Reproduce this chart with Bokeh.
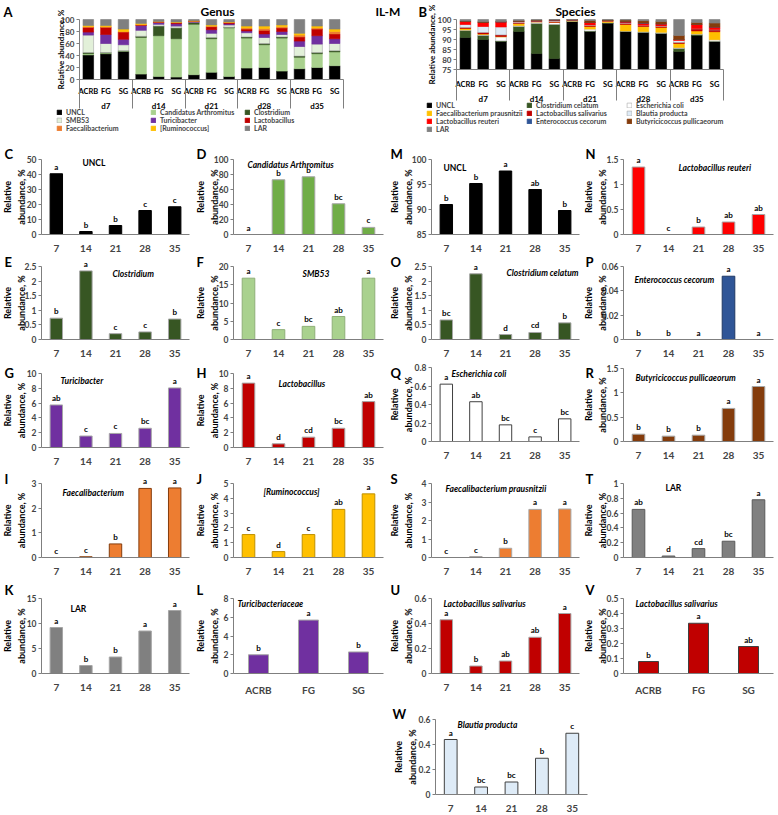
import math
from bokeh.plotting import figure
from bokeh.models import (Range1d, FixedTicker, Label, Legend, LegendItem,
                          ColumnDataSource, Spacer, NumeralTickFormatter)
from bokeh.layouts import column, row
from bokeh.embed import file_html
from bokeh.resources import INLINE
from bokeh.core.properties import value

FONT = "Lato"
AX = "#7F7F7F"

# ---------------- data: stacked composition charts ----------------
days = ["d7", "d14", "d21", "d28", "d35"]
diets = ["ACRB", "FG", "SG"]

genus_names = ["UNCL", "Candidatus Arthromitus", "Clostridium", "SMB53", "Turicibacter",
               "Lactobacillus", "Faecalibacterium", "[Ruminococcus]", "LAR"]
genus_colors = ["#000000", "#A9D18E", "#375623", "#E2F0D9", "#7030A0",
                "#C00000", "#ED7D31", "#FFC000", "#808080"]
genus_light = [False, False, False, True, False, False, False, False, False]
# 15 bars: d7 ACRB, d7 FG, d7 SG, d14 ACRB, ...
genus_uncl = [41, 43, 47, 9, 5, 4, 8, 12, 5, 19, 20, 14, 18, 20, 23]
genus_cand = [2, 1, 0.5, 61, 68, 64, 84, 56, 81, 50, 38, 55, 19, 23, 23]
genus_clost = [2, 1, 0.5, 2, 16, 18, 3, 2, 1, 2, 2, 2, 2, 2, 2]
genus_smb53 = [29, 15, 10, 10, 3, 3, 0.5, 7, 4, 7, 10, 4, 16, 14, 12]
genus_turic = [5, 15, 9, 8, 3, 4, 1, 6, 2, 3, 6, 5, 9, 14, 8]
genus_lacto = [8, 12, 12, 1, 1, 2, 1, 5, 2, 3, 6, 6, 7, 11, 8]
genus_faec = [1, 1, 1, 0.5, 0.2, 0.2, 0, 1, 0.3, 2, 3, 2, 3, 2, 4]
genus_rumino = [2, 2, 4, 2, 0.5, 0.5, 0.5, 2, 0.7, 3, 4, 3, 3, 3, 4]
genus_lar = [10, 10, 16, 6.5, 3.3, 4.3, 2, 9, 4, 11, 11, 9, 23, 11, 16]
genus_series = [genus_uncl, genus_cand, genus_clost, genus_smb53, genus_turic,
                genus_lacto, genus_faec, genus_rumino, genus_lar]
genus_ticks = [0, 20, 40, 60, 80, 100]

species_names = ["UNCL", "Clostridium celatum", "Escherichia coli", "Faecalibacterium prausnitzii",
                 "Lactobacillus salivarius", "Blautia producta", "Lactobacillus reuteri",
                 "Enterococcus cecorum", "Butyricicoccus pullicaeorum", "LAR"]
species_colors = ["#000000", "#375623", "#FFFFFF", "#FFC000", "#C00000",
                  "#DEEBF7", "#FF0000", "#2F5597", "#843C0C", "#808080"]
species_light = [False, False, True, False, False, True, False, False, False, False]
sp_uncl = [91, 90, 89, 94, 83, 80.5, 99, 94, 98.2, 94, 93.5, 93, 84, 92, 89]
sp_ccel = [3.5, 2, 0.3, 2.5, 15, 17, 0.1, 0.2, 0.1, 0.1, 0.1, 0.1, 1.5, 0.5, 0.1]
sp_ecoli = [0.3, 0.5, 2, 0.5, 0.8, 1, 0.1, 1, 0.2, 0.2, 0.4, 0.5, 0.5, 0.3, 0.8]
sp_fpra = [0.7, 0.3, 0.2, 1, 0.1, 0.1, 0.4, 1.3, 0.6, 3.2, 2.5, 2.4, 2, 1.5, 4]
sp_lsal = [0.5, 0.7, 0.8, 0.3, 0.3, 0.3, 0.1, 0.5, 0.2, 0.5, 0.4, 0.5, 0.5, 1, 0.8]
sp_bpro = [1.5, 3, 4, 0.5, 0.1, 0.5, 0.1, 0.3, 0.1, 0.3, 0.2, 0.3, 1, 0.2, 0.3]
sp_lreu = [1.5, 2, 2.5, 0.2, 0.1, 0.3, 0.05, 1.2, 0.1, 0.5, 1, 1, 0.5, 2, 1.2]
sp_ecec = [0, 0, 0, 0, 0, 0, 0, 0, 0, 0.1, 0.1, 0, 0, 0, 0]
sp_bpul = [0.3, 0.5, 0.2, 0.5, 0.3, 0.2, 0.1, 1, 0.3, 0.8, 1.2, 1.2, 2, 1, 2]
sp_lar = [0.7, 1, 1, 0.5, 0.3, 0.1, 0.05, 0.5, 0.2, 0.3, 0.6, 1, 8, 1.5, 1.8]
species_series = [sp_uncl, sp_ccel, sp_ecoli, sp_fpra, sp_lsal, sp_bpro, sp_lreu,
                  sp_ecec, sp_bpul, sp_lar]
species_ticks = [75, 80, 85, 90, 95, 100]

# ---------------- data: single-taxon panels ----------------
age_days = ["7", "14", "21", "28", "35"]

uncl_genus = [40.5, 2.0, 6.0, 16.0, 18.5]
uncl_genus_sig = ["a", "b", "b", "c", "c"]
cand_arthro = [0, 73, 77, 41, 9.5]
cand_arthro_sig = ["a", "b", "b", "bc", "c"]
clostridium = [0.73, 2.35, 0.2, 0.26, 0.7]
clostridium_sig = ["b", "a", "c", "c", "b"]
smb53 = [16.8, 2.7, 3.6, 6.3, 16.8]
smb53_sig = ["a", "c", "bc", "ab", "a"]
turicibacter = [5.75, 1.55, 1.9, 2.6, 8.05]
turicibacter_sig = ["ab", "c", "c", "bc", "a"]
lactobacillus = [8.7, 0.5, 1.4, 2.6, 6.2]
lactobacillus_sig = ["a", "d", "cd", "bc", "ab"]
faecalibacterium = [0.0, 0.03, 0.55, 2.8, 2.82]
faecalibacterium_sig = ["c", "c", "b", "a", "a"]
ruminococcus = [1.55, 0.4, 1.55, 3.25, 4.3]
ruminococcus_sig = ["c", "d", "c", "ab", "a"]
lar_genus = [9.2, 1.6, 3.3, 8.5, 12.6]
lar_genus_sig = ["a", "b", "b", "a", "a"]
turicibacteriaceae = [2.0, 5.7, 2.3]
turicibacteriaceae_sig = ["b", "a", "b"]
uncl_species = [91.0, 95.2, 97.7, 94.0, 89.8]
uncl_species_sig = ["b", "b", "a", "ab", "b"]
l_reuteri = [1.35, 0.0, 0.15, 0.25, 0.4]
l_reuteri_sig = ["a", "c", "b", "ab", "ab"]
c_celatum = [0.67, 2.25, 0.17, 0.24, 0.57]
c_celatum_sig = ["bc", "a", "d", "cd", "b"]
e_cecorum = [0, 0, 0, 0.052, 0]
e_cecorum_sig = ["b", "b", "a", "a", "a"]
e_coli = [0.62, 0.43, 0.18, 0.05, 0.245]
e_coli_sig = ["a", "ab", "bc", "c", "bc"]
b_pullicaeorum = [0.15, 0.11, 0.13, 0.68, 1.13]
b_pullicaeorum_sig = ["b", "b", "b", "a", "a"]
f_prausnitzii = [0.0, 0.05, 0.5, 2.6, 2.62]
f_prausnitzii_sig = ["c", "c", "b", "a", "a"]
lar_species = [0.65, 0.02, 0.12, 0.22, 0.78]
lar_species_sig = ["ab", "d", "cd", "bc", "a"]
l_salivarius = [0.43, 0.06, 0.1, 0.29, 0.48]
l_salivarius_sig = ["a", "b", "ab", "ab", "a"]
l_salivarius_diet = [0.08, 0.335, 0.18]
l_salivarius_diet_sig = ["b", "a", "ab"]
b_producta = [0.44, 0.06, 0.1, 0.29, 0.49]
b_producta_sig = ["a", "bc", "bc", "b", "c"]

ticks_50 = [0, 10, 20, 30, 40, 50]
ticks_100 = [0, 20, 40, 60, 80, 100]
ticks_2_5 = [0, 0.5, 1, 1.5, 2, 2.5]
ticks_20 = [0, 5, 10, 15, 20]
ticks_10 = [0, 2, 4, 6, 8, 10]
ticks_3 = [0, 1, 2, 3]
ticks_5 = [0, 1, 2, 3, 4, 5]
ticks_15 = [0, 5, 10, 15]
ticks_8 = [0, 2, 4, 6, 8]
ticks_85_100 = [85, 90, 95, 100]
ticks_1_5 = [0, 0.5, 1, 1.5]
ticks_0_06 = [0, 0.02, 0.04, 0.06]
ticks_0_8 = [0, 0.2, 0.4, 0.6, 0.8]
ticks_4 = [0, 1, 2, 3, 4]
ticks_1 = [0, 0.2, 0.4, 0.6, 0.8, 1]
ticks_0_6 = [0, 0.2, 0.4, 0.6]
ticks_0_5 = [0, 0.1, 0.2, 0.3, 0.4, 0.5]


def lab(p, x, y, text, size, style="bold", align="left", baseline="middle", angle=0.0):
    p.add_layout(Label(x=x, y=y, x_units="screen", y_units="screen", text=text,
                       text_font=FONT, text_font_size=size, text_font_style=style,
                       text_align=align, text_baseline=baseline, angle=angle,
                       text_color="#000000", text_line_height=1.3))


def style_axis_text(ax, size):
    ax.major_label_text_font = FONT
    ax.major_label_text_font_style = "bold"
    ax.major_label_text_font_size = size


def style_yaxis(ax, ticks, size):
    ax.ticker = FixedTicker(ticks=ticks)
    ax.formatter = NumeralTickFormatter(format="0.[00]")
    ax.fixed_location = 0
    ax.bounds = (ticks[0], ticks[-1])
    ax.axis_line_color = AX
    ax.major_tick_line_color = AX
    ax.major_tick_out = 3
    ax.major_tick_in = 0
    ax.minor_tick_line_color = None
    ax.major_label_standoff = 2
    style_axis_text(ax, size)


def base_figure(width, height, x_lo, x_hi, y_lo, y_hi):
    p = figure(width=width, height=height, x_range=Range1d(x_lo, x_hi),
               y_range=Range1d(y_lo, y_hi), min_border=0, min_border_left=0,
               min_border_right=0, min_border_top=0, min_border_bottom=0,
               output_backend="svg", toolbar_location=None, tools="")
    p.xgrid.visible = False
    p.ygrid.visible = False
    p.outline_line_color = None
    return p


# ---------------- stacked charts ----------------
def stacked_chart(names, colors, light, series, yticks, width, height, fl, fr, ft, fb,
                  cat_off, grp_off, sep_len, ylab_x, leg_x, leg_y, leg_lw):
    factors = [(d, g) for d in days for g in diets]
    n = len(factors)
    slots = [i + 0.5 for i in range(n)]
    ymin, ymax = yticks[0], yticks[-1]
    xu = n / (fr - fl)
    yu = (ymax - ymin) / (fb - ft)
    p = base_figure(width, height, -fl * xu, n + (width - fr) * xu,
                    ymin - (height - fb) * yu, ymax + ft * yu)
    lcs = ["#A6A6A6" if l else c for l, c in zip(light, colors)]
    cum = [0.0] * n
    rends = []
    for s, c, lc in zip(series, colors, lcs):
        new = [a + b for a, b in zip(cum, s)]
        src = ColumnDataSource(dict(x=slots, bottom=[max(v, ymin) for v in cum],
                                    top=[max(v, ymin) for v in new]))
        rends.append(p.vbar(x="x", bottom="bottom", top="top", width=0.6, source=src,
                            fill_color=c, line_color=lc, line_width=0.6))
        cum = new
    style_yaxis(p.yaxis[0], yticks, "8px")

    # category axis: base line plus long separator ticks between the day groups
    xa = p.xaxis[0]
    seps = [len(diets) * k for k in range(len(days) + 1)]
    xa.fixed_location = ymin
    xa.bounds = (0, n)
    xa.ticker = FixedTicker(ticks=seps)
    xa.major_label_overrides = {s: "" for s in seps}
    xa.major_tick_out = sep_len
    xa.major_tick_in = 0
    xa.major_tick_line_color = AX
    xa.minor_tick_line_color = None
    xa.axis_line_color = AX

    cat_src = ColumnDataSource(dict(x=slots, y=[ymin] * n, t=[f[1] for f in factors]))
    p.text(x="x", y="y", text="t", source=cat_src, y_offset=cat_off, text_align="center",
           text_baseline="middle", text_font=value(FONT), text_font_style="bold",
           text_font_size=value("7.5px"), text_color="#000000")
    gc = [len(diets) * k + len(diets) / 2 for k in range(len(days))]
    grp_src = ColumnDataSource(dict(x=gc, y=[ymin] * len(days), t=days))
    p.text(x="x", y="y", text="t", source=grp_src, y_offset=grp_off, text_align="center",
           text_baseline="middle", text_font=value(FONT), text_font_style="bold",
           text_font_size=value("8px"), text_color="#000000")

    lab(p, ylab_x, height - (ft + fb) / 2, "Relative abundance, %", "8px", align="center",
        angle=math.pi / 2)

    items = [LegendItem(label=nm, renderers=[r]) for nm, r in zip(names, rends)]
    lg = Legend(items=items, location=(leg_x, leg_y), orientation="horizontal", ncols=3,
                glyph_width=6, glyph_height=6, label_standoff=4, spacing=0, padding=0,
                margin=0, label_height=8, label_width=leg_lw,
                label_text_font=FONT, label_text_font_style="bold",
                label_text_font_size="7px", border_line_color=None,
                background_fill_alpha=0)
    p.add_layout(lg)
    return p


TOP_H = 140
pA = stacked_chart(genus_names, genus_colors, genus_light, genus_series, genus_ticks,
                   width=406, height=TOP_H, fl=79, fr=343, ft=19, fb=79,
                   cat_off=12, grp_off=26, sep_len=29, ylab_x=60,
                   leg_x=56, leg_y=8, leg_lw=84)
lab(pA, 3, TOP_H - 11, "A", "13px", baseline="alphabetic")
lab(pA, 217, TOP_H - 11, "Genus", "12px", align="center", baseline="alphabetic")
lab(pA, 375, TOP_H - 11, "IL-M", "12px", baseline="alphabetic")

pB = stacked_chart(species_names, species_colors, species_light, species_series,
                   species_ticks, width=372, height=TOP_H, fl=50, fr=317, ft=19, fb=69,
                   cat_off=15, grp_off=29, sep_len=31, ylab_x=25,
                   leg_x=20, leg_y=7, leg_lw=90)
lab(pB, 12, TOP_H - 11, "B", "13px", baseline="alphabetic")
lab(pB, 169, TOP_H - 11, "Species", "12px", align="center", baseline="alphabetic")

# ---------------- small panels ----------------
# page geometry (pixels): column x0, width, plot-area left, plot-area width
COLS = [(0, 195, 41, 148), (195, 193, 233, 150), (388, 195, 431, 148), (583, 195, 623, 150)]
ROW_EDGES = [140, 252, 358, 467, 576, 697, 815]
ROW_TB = [(159, 234), (266, 339), (373, 447), (483, 557), (598, 673), (719, 794)]
LETTER_BASE = [153, 261, 372, 478, 589, 713]
LETTER_X = [4, 196, 390, 585]
YLAB_X = [14, 207, 401, 595]

GRAY_EDGE = "#A6A6A6"

specs = [
    dict(L="C", c=0, r=0, cats=age_days, v=uncl_genus, s=uncl_genus_sig, t=ticks_50,
         col="#000000", edge="#000000", title="UNCL", it=False, tx=82, ty=162),
    dict(L="D", c=1, r=0, cats=age_days, v=cand_arthro, s=cand_arthro_sig, t=ticks_100,
         col="#70AD47", edge=GRAY_EDGE, title="Candidatus Arthromitus", it=True, tx=247, ty=164),
    dict(L="M", c=2, r=0, cats=age_days, v=uncl_species, s=uncl_species_sig, t=ticks_85_100,
         col="#000000", edge="#000000", title="UNCL", it=False, tx=443, ty=167),
    dict(L="N", c=3, r=0, cats=age_days, v=l_reuteri, s=l_reuteri_sig, t=ticks_1_5,
         col="#FF0000", edge=GRAY_EDGE, title="Lactobacillus reuteri", it=True, tx=678, ty=167),
    dict(L="E", c=0, r=1, cats=age_days, v=clostridium, s=clostridium_sig, t=ticks_2_5,
         col="#375623", edge=GRAY_EDGE, title="Clostridium", it=True, tx=112, ty=273),
    dict(L="F", c=1, r=1, cats=age_days, v=smb53, s=smb53_sig, t=ticks_20,
         col="#A9D18E", edge="#8FAF78", title="SMB53", it=True, tx=302, ty=273),
    dict(L="O", c=2, r=1, cats=age_days, v=c_celatum, s=c_celatum_sig, t=ticks_2_5,
         col="#375623", edge=GRAY_EDGE, title="Clostridium celatum", it=True, tx=506, ty=272),
    dict(L="P", c=3, r=1, cats=age_days, v=e_cecorum, s=e_cecorum_sig, t=ticks_0_06,
         col="#2F5597", edge="#1F3864", title="Enterococcus cecorum", it=True, tx=634, ty=279),
    dict(L="G", c=0, r=2, cats=age_days, v=turicibacter, s=turicibacter_sig, t=ticks_10,
         col="#7030A0", edge=GRAY_EDGE, title="Turicibacter", it=True, tx=60, ty=380),
    dict(L="H", c=1, r=2, cats=age_days, v=lactobacillus, s=lactobacillus_sig, t=ticks_10,
         col="#C00000", edge=GRAY_EDGE, title="Lactobacillus", it=True, tx=278, ty=383),
    dict(L="Q", c=2, r=2, cats=age_days, v=e_coli, s=e_coli_sig, t=ticks_0_8,
         col="#FFFFFF", edge="#404040", title="Escherichia coli", it=True, tx=451, ty=373,
         tb=(367, 441)),
    dict(L="R", c=3, r=2, cats=age_days, v=b_pullicaeorum, s=b_pullicaeorum_sig, t=ticks_1_5,
         col="#843C0C", edge=GRAY_EDGE, title="Butyricicoccus pullicaeorum", it=True, tx=635,
         ty=377, tb=(368, 441)),
    dict(L="I", c=0, r=3, cats=age_days, v=faecalibacterium, s=faecalibacterium_sig, t=ticks_3,
         col="#ED7D31", edge="#843C0C", title="Faecalibacterium", it=True, tx=62, ty=492),
    dict(L="J", c=1, r=3, cats=age_days, v=ruminococcus, s=ruminococcus_sig, t=ticks_5,
         col="#FFC000", edge="#BF9000", title="[Ruminococcus]", it=True, tx=263, ty=491),
    dict(L="S", c=2, r=3, cats=age_days, v=f_prausnitzii, s=f_prausnitzii_sig, t=ticks_4,
         col="#ED7D31", edge=GRAY_EDGE, title="Faecalibacterium prausnitzii", it=True, tx=445,
         ty=488),
    dict(L="T", c=3, r=3, cats=age_days, v=lar_species, s=lar_species_sig, t=ticks_1,
         col="#808080", edge="#595959", title="LAR", it=False, tx=665, ty=487),
    dict(L="K", c=0, r=4, cats=age_days, v=lar_genus, s=lar_genus_sig, t=ticks_15,
         col="#808080", edge=GRAY_EDGE, title="LAR", it=False, tx=70, ty=608),
    dict(L="L", c=1, r=4, cats=diets, v=turicibacteriaceae, s=turicibacteriaceae_sig, t=ticks_8,
         col="#7030A0", edge=GRAY_EDGE, title="Turicibacteriaceae", it=True, tx=237, ty=603),
    dict(L="U", c=2, r=4, cats=age_days, v=l_salivarius, s=l_salivarius_sig, t=ticks_0_6,
         col="#C00000", edge=GRAY_EDGE, title="Lactobacillus salivarius", it=True, tx=443, ty=603),
    dict(L="V", c=3, r=4, cats=diets, v=l_salivarius_diet, s=l_salivarius_diet_sig, t=ticks_0_5,
         col="#C00000", edge="#404040", title="Lactobacillus salivarius", it=True, tx=635, ty=603),
    dict(L="W", c=2, r=5, cats=age_days, v=b_producta, s=b_producta_sig, t=ticks_0_6,
         col="#DEEBF7", edge="#404040", title="Blautia producta", it=True, tx=457, ty=724,
         cgeo=(388, 207, 435, 152), lx=392, ylx=405),
]


def small_panel(sp):
    x0, cw, fl, fw = sp.get("cgeo", COLS[sp["c"]])
    r = sp["r"]
    y0, y1 = ROW_EDGES[r], ROW_EDGES[r + 1]
    T, B = sp.get("tb", ROW_TB[r])
    H = y1 - y0
    cats = sp["cats"]
    n = len(cats)
    slots = [i + 0.5 for i in range(n)]
    t = sp["t"]
    t0, t1 = t[0], t[-1]
    xu = n / fw
    yu = (t1 - t0) / (B - T)
    p = base_figure(cw, H, -(fl - x0) * xu, n + (x0 + cw - fl - fw) * xu,
                    t0 - (y1 - B) * yu, t1 + (T - y0) * yu)
    src = ColumnDataSource(dict(x=slots, top=sp["v"], sig=sp["s"]))
    bw = 0.42 if n == 5 else 0.4
    p.vbar(x="x", bottom=t0, top="top", width=bw, source=src, fill_color=sp["col"],
           line_color=sp["edge"], line_width=1)
    p.text(x="x", y="top", text="sig", source=src, text_align="center",
           text_baseline="bottom", y_offset=-2, text_font=value(FONT),
           text_font_style="bold", text_font_size=value("8px"), text_color="#000000")
    style_yaxis(p.yaxis[0], t, "8.5px")
    xa = p.xaxis[0]
    xa.fixed_location = t0
    xa.bounds = (0, n)
    xa.ticker = FixedTicker(ticks=slots)
    xa.major_label_overrides = {s: c for s, c in zip(slots, cats)}
    xa.axis_line_color = AX
    xa.major_tick_line_color = None
    xa.minor_tick_line_color = None
    xa.major_label_standoff = 4
    style_axis_text(xa, "10px")

    lx = sp.get("lx", LETTER_X[sp["c"]])
    lab(p, lx - x0, y1 - LETTER_BASE[r], sp["L"], "13px", baseline="alphabetic")
    lab(p, sp["tx"] - x0, y1 - sp["ty"], sp["title"], "8.5px",
        style="bold italic" if sp["it"] else "bold")
    ylx = sp.get("ylx", YLAB_X[sp["c"]])
    lab(p, ylx - x0, y1 - (T + B) / 2, "Relative\nabundance, %", "9px", align="center",
        angle=math.pi / 2)
    return p


panels = [small_panel(sp) for sp in specs]
rows_out = [row(pA, pB)]
for r in range(5):
    rows_out.append(row(*panels[4 * r:4 * r + 4]))
rows_out.append(row(Spacer(width=388, height=ROW_EDGES[6] - ROW_EDGES[5]), panels[20]))
layout = column(*rows_out)

open("out.html", "w").write(file_html(layout, INLINE, title="Genus and species abundance"))
